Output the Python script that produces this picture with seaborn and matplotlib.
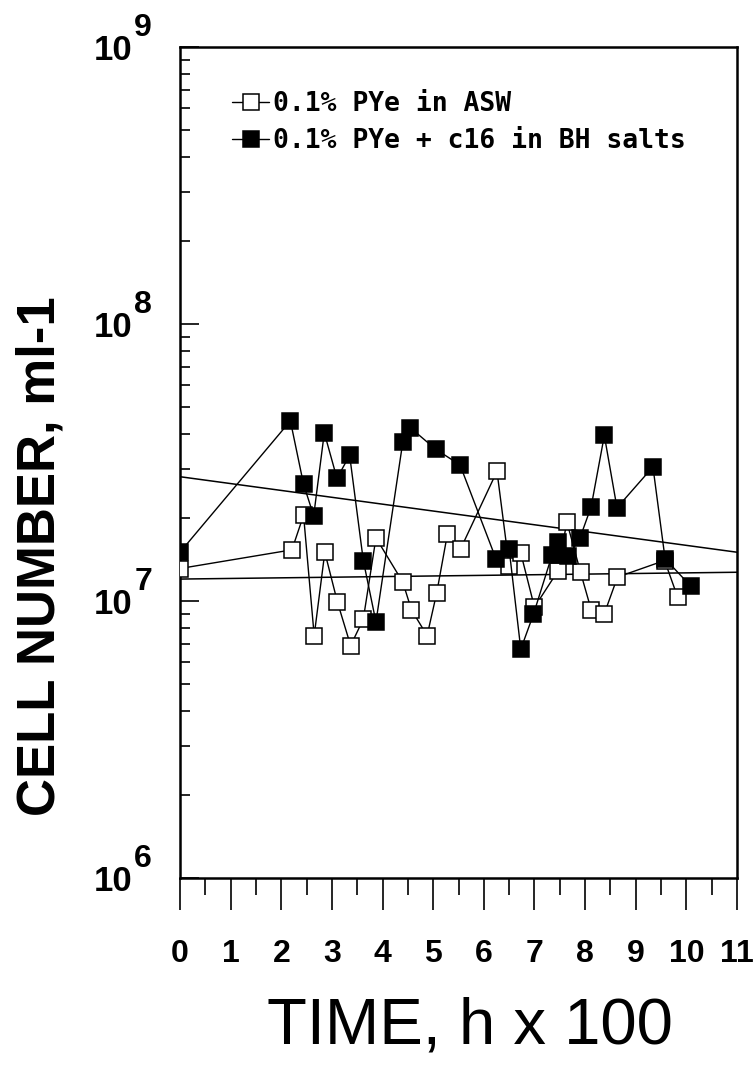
import matplotlib
matplotlib.use("Agg")
import matplotlib.pyplot as plt
import seaborn as sns
from matplotlib import font_manager, ticker
from matplotlib.font_manager import FontProperties

# ---------------- data ----------------
asw_time = [0.0, 2.21, 2.44, 2.65, 2.86, 3.11, 3.37, 3.62, 3.87, 4.40, 4.57, 4.88,
            5.07, 5.28, 5.54, 6.26, 6.50, 6.73, 7.00, 7.46, 7.64, 7.91, 8.12, 8.38,
            8.64, 9.57, 9.83]
asw_cells = [1.31e7, 1.53e7, 2.04e7, 7.5e6, 1.50e7, 9.9e6, 6.9e6, 8.6e6, 1.69e7,
             1.17e7, 9.3e6, 7.5e6, 1.07e7, 1.74e7, 1.54e7, 2.94e7, 1.34e7, 1.49e7,
             9.5e6, 1.28e7, 1.93e7, 1.27e7, 9.3e6, 9.0e6, 1.22e7, 1.40e7, 1.03e7]

bh_time = [0.0, 2.18, 2.44, 2.64, 2.85, 3.10, 3.35, 3.62, 3.87, 4.40, 4.55, 5.05,
           5.53, 6.24, 6.50, 6.73, 6.98, 7.35, 7.47, 7.67, 7.90, 8.12, 8.38, 8.63,
           9.34, 9.58, 10.09]
bh_cells = [1.50e7, 4.47e7, 2.64e7, 2.03e7, 4.05e7, 2.77e7, 3.36e7, 1.40e7, 8.4e6,
            3.75e7, 4.22e7, 3.53e7, 3.10e7, 1.42e7, 1.54e7, 6.7e6, 8.95e6, 1.47e7,
            1.63e7, 1.45e7, 1.69e7, 2.19e7, 3.96e7, 2.17e7, 3.05e7, 1.42e7, 1.13e7]

fit_time = [0.0, 11.0]
fit_asw = [1.20e7, 1.27e7]
fit_bh = [2.81e7, 1.50e7]

labels = ["0.1% PYe in ASW", "0.1% PYe + c16 in BH salts"]
x_ticks = list(range(0, 12))
y_ticks = [1e6, 1e7, 1e8, 1e9]
y_exps = ["6", "7", "8", "9"]

# ---------------- style ----------------
sns.set_theme(style="ticks")
names = {f.name for f in font_manager.fontManager.ttflist}
narrow = "Liberation Sans Narrow" if "Liberation Sans Narrow" in names else "Liberation Sans"
plt.rcParams["font.family"] = ["Liberation Sans", "DejaVu Sans"]
for k in ["text.color", "axes.labelcolor", "xtick.color", "ytick.color",
          "axes.edgecolor"]:
    plt.rcParams[k] = "black"

fig = plt.figure(figsize=(7.53, 10.72), dpi=100)
ax = fig.add_axes([180 / 753, (1072 - 878) / 1072, 557 / 753, 831 / 1072])
ax.set_facecolor("white")

# fit lines
sns.lineplot(x=fit_time, y=fit_asw, ax=ax, color="black", lw=1.1, zorder=1)
sns.lineplot(x=fit_time, y=fit_bh, ax=ax, color="black", lw=1.1, zorder=1)

# series
sns.lineplot(x=asw_time, y=asw_cells, ax=ax, color="black", lw=1.0,
             marker="s", markersize=11.5, markerfacecolor="white",
             markeredgecolor="black", markeredgewidth=1.1, sort=False,
             estimator=None, label=labels[0], zorder=3)
sns.lineplot(x=bh_time, y=bh_cells, ax=ax, color="black", lw=1.0,
             marker="s", markersize=11.5, markerfacecolor="black",
             markeredgecolor="black", markeredgewidth=1.1, sort=False,
             estimator=None, label=labels[1], zorder=4)

ax.set_yscale("log")
ax.set_xlim(0, 11)
ax.set_ylim(1e6, 1e9)

# x ticks
ax.set_xticks(x_ticks)
ax.set_xticklabels([str(t) for t in x_ticks])
ax.xaxis.set_minor_locator(ticker.MultipleLocator(0.5))
ax.tick_params(axis="x", which="major", direction="out", length=23, width=1.2,
               labelsize=23, pad=21, bottom=True, top=False, color="black",
               labelcolor="black")
ax.tick_params(axis="x", which="minor", direction="out", length=12, width=1.2,
               bottom=True, top=False, color="black")
for lbl in ax.get_xticklabels():
    lbl.set_fontweight("bold")

# y ticks
ax.set_yticks(y_ticks)
ax.set_yticklabels(["10"] * len(y_ticks))
ax.yaxis.set_minor_locator(ticker.LogLocator(base=10, subs=range(2, 10)))
ax.yaxis.set_minor_formatter(ticker.NullFormatter())
ax.tick_params(axis="y", which="major", direction="in", length=13.5, width=1.2,
               labelsize=25, pad=34, left=True, right=False, color="black",
               labelcolor="black")
ax.tick_params(axis="y", which="minor", direction="in", length=7, width=1.2,
               left=True, right=False, color="black")
for lbl in ax.get_yticklabels():
    lbl.set_fontweight("bold")
for val, e in zip(y_ticks, y_exps):
    ax.annotate(e, xy=(0, val), xycoords=ax.get_yaxis_transform(),
                xytext=(-33, 14), textcoords="offset points", ha="left",
                va="center", fontsize=23, fontweight="bold", color="black",
                annotation_clip=False)

for s in ax.spines.values():
    s.set_linewidth(1.8)
    s.set_color("black")
    s.set_visible(True)

# labels
ax.set_xlabel("TIME, h x 100", fontsize=56 if narrow != "Liberation Sans" else 47,
              family=[narrow, "DejaVu Sans"], color="black")
ax.xaxis.set_label_coords(0.521, -0.142)
ax.xaxis.label.set_va("top")
ax.set_ylabel("CELL NUMBER, ml-1", fontsize=38, fontweight="bold", color="black")
ax.yaxis.set_label_coords(-0.205, 0.3875)

# legend
handles, labs = ax.get_legend_handles_labels()
leg = ax.legend(handles, labs, loc="upper left", bbox_to_anchor=(0.094, 0.947),
                frameon=False, prop=FontProperties(family="DejaVu Sans Mono",
                                                   weight="bold", size=19),
                handlelength=1.4, handletextpad=0.15, labelspacing=0.42,
                borderaxespad=0, borderpad=0)
for t in leg.get_texts():
    t.set_color("black")

fig.savefig("out.png", dpi=100, facecolor="white")
